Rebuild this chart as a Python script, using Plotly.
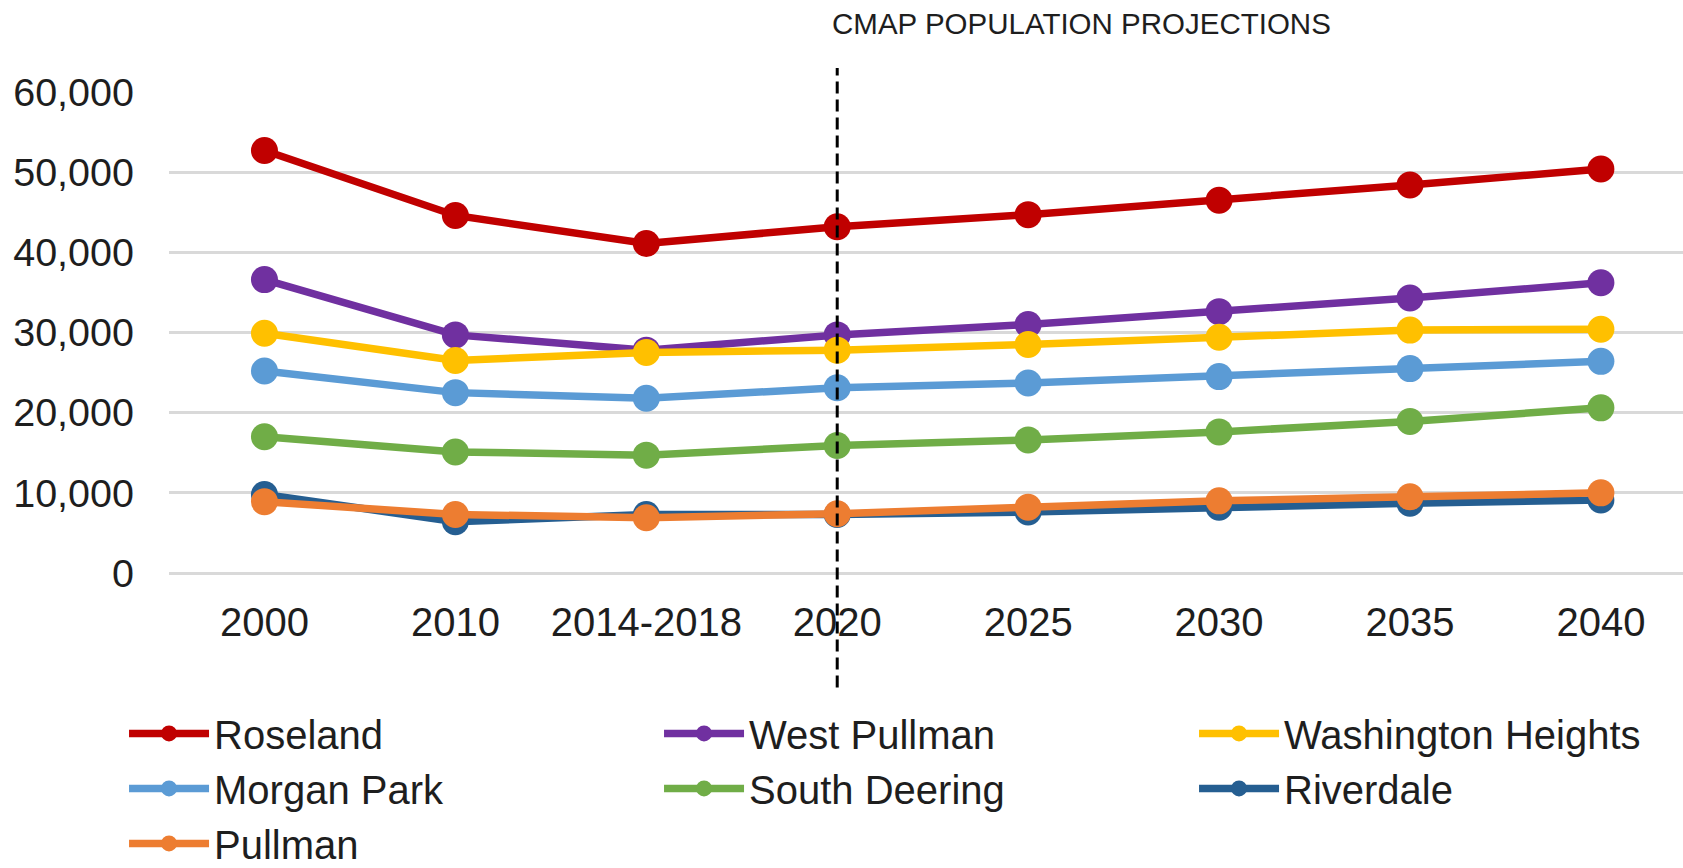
import plotly.graph_objects as go

categories = ["2000", "2010", "2014-2018", "2020", "2025", "2030", "2035", "2040"]

roseland = [52700, 44600, 41100, 43200, 44700, 46500, 48400, 50400]
west_pullman = [36600, 29700, 27800, 29700, 31000, 32600, 34300, 36200]
washington_heights = [29900, 26500, 27500, 27800, 28500, 29400, 30300, 30400]
morgan_park = [25200, 22500, 21800, 23100, 23700, 24500, 25500, 26400]
south_deering = [17000, 15100, 14700, 15900, 16600, 17600, 18900, 20600]
riverdale = [9800, 6400, 7300, 7300, 7600, 8200, 8700, 9100]
pullman = [8900, 7300, 6900, 7400, 8200, 9000, 9500, 10000]

series_names = ["Roseland", "West Pullman", "Washington Heights", "Morgan Park",
                "South Deering", "Riverdale", "Pullman"]
series_values = [roseland, west_pullman, washington_heights, morgan_park,
                 south_deering, riverdale, pullman]
series_colors = ["#C00000", "#7030A0", "#FFC000", "#5B9BD5", "#70AD47", "#255E91", "#ED7D31"]
# legend entries in the last column are narrower so the legend fits the page
series_legend_width = [None, None, 370, None, None, 370, None]

y_ticks = [0, 10000, 20000, 30000, 40000, 50000, 60000]
projection_label = "CMAP POPULATION PROJECTIONS"
projection_start = "2020"

FONT = "Liberation Sans, Arial, sans-serif"
TXT = "#1e1e1e"

fig = go.Figure()
for name, vals, col, lw in zip(series_names, series_values, series_colors, series_legend_width):
    fig.add_trace(go.Scatter(
        x=categories, y=vals, name=name, mode="lines+markers",
        line=dict(color=col, width=7.5),
        marker=dict(color=col, size=27),
        cliponaxis=False,
        legendwidth=lw,
    ))

proj_idx = categories.index(projection_start)
fig.add_shape(type="line", xref="x", yref="paper",
              x0=proj_idx, x1=proj_idx, y0=-0.238, y1=1.05,
              line=dict(color="black", width=3, dash="12px,6px"),
              layer="above")

fig.add_annotation(text=projection_label, xref="paper", yref="paper",
                   x=(1081 - 169) / 1514, y=1 + (92.5 - 24) / 480,
                   xanchor="center", yanchor="middle", showarrow=False,
                   font=dict(family=FONT, size=29.5, color=TXT))

fig.update_layout(
    width=1683, height=868,
    margin=dict(l=169, r=0, t=92, b=295, pad=0, autoexpand=False),
    paper_bgcolor="white", plot_bgcolor="white",
    font=dict(family=FONT, color=TXT),
    showlegend=True,
    legend=dict(
        orientation="h", x=-0.0297, xanchor="left", y=-0.266, yanchor="top",
        font=dict(family=FONT, size=40, color=TXT),
        entrywidth=440, entrywidthmode="pixels", itemwidth=80,
        bgcolor="rgba(0,0,0,0)", tracegroupgap=0,
    ),
    xaxis=dict(
        type="category", categoryorder="array", categoryarray=categories,
        range=[-0.5, 7.43], showgrid=False, zeroline=False, showline=False,
        ticks="", tickfont=dict(family=FONT, size=40, color=TXT),
        ticklabelstandoff=22,
    ),
    yaxis=dict(
        range=[0, 60000], tickvals=y_ticks, tickformat=",d",
        showgrid=True, gridcolor="#D9D9D9", gridwidth=3,
        zeroline=True, zerolinecolor="#D9D9D9", zerolinewidth=3,
        showline=False, ticks="",
        tickfont=dict(family=FONT, size=39.5, color=TXT),
        ticklabelstandoff=34,
    ),
)

fig.write_html("out.html")
